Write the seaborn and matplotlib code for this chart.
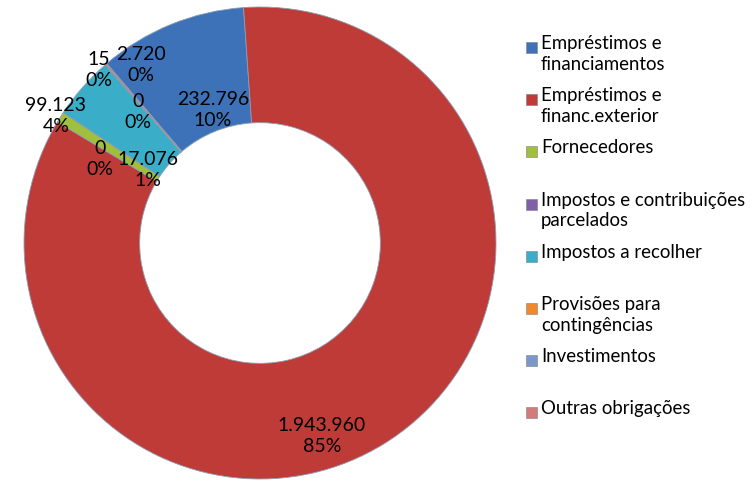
import matplotlib
matplotlib.use("Agg")
import matplotlib.pyplot as plt
import seaborn as sns
from matplotlib.patches import Rectangle

# data
categories = [
    "Empréstimos e financiamentos",
    "Empréstimos e financ.exterior",
    "Fornecedores",
    "Impostos e contribuições parcelados",
    "Impostos a recolher",
    "Provisões para contingências",
    "Investimentos",
    "Outras obrigações",
]
values = [232796, 1943960, 17076, 0, 99123, 0, 15, 2720]
legend_text = [
    "Empréstimos e\nfinanciamentos",
    "Empréstimos e\nfinanc.exterior",
    "Fornecedores",
    "Impostos e contribuições\nparcelados",
    "Impostos a recolher",
    "Provisões para\ncontingências",
    "Investimentos",
    "Outras obrigações",
]

# layout / style
colors = ["#3D72B8", "#BE3B38", "#A0BF3C", "#7F5FA8",
          "#3AADC8", "#F0892E", "#7B98C9", "#D17B7A"]
# data label centres (pixels), Excel placed the small ones by hand
label_px = [(213, 110), (322, 436), (148, 170), (100, 159),
            (56, 116), (138, 112), (99, 70), (141, 65)]

W, H = 752, 490
CX, CY, R = 260, 243, 236
FONT = ["Lato", "DejaVu Sans"]
FS = 14
FS_LEG = 13.4

sns.set_theme(style="white")
plt.rcParams["font.family"] = FONT

fig = plt.figure(figsize=(W / 100, H / 100), dpi=100)
fig.patch.set_facecolor("white")

half = 240
ax = fig.add_axes([(CX - half) / W, (H - CY - half) / H, 2 * half / W, 2 * half / H])
ax.axis("off")

total = sum(values)
blue_deg = 360 * values[0] / total
start = 90 + 4 + blue_deg  # blue ends just left of 12 o'clock

wedges, _ = ax.pie(
    values, colors=colors, radius=1.0, startangle=start, counterclock=False,
    wedgeprops=dict(width=0.49, edgecolor="#8d9db3", linewidth=0.6),
)
# pie() resets the limits, so set them afterwards
ax.set_xlim(-half / R, half / R)
ax.set_ylim(-half / R, half / R)
ax.set_aspect("equal")

for v, (px, py) in zip(values, label_px):
    pct = round(100 * v / total)
    txt = f"{v:,}".replace(",", ".") + f"\n{pct}%"
    ax.text((px - CX) / R, (CY - py) / R, txt, ha="center", va="center",
            fontsize=FS, color="black", linespacing=1.3)

# legend drawn by hand so markers line up with the first text line
for i, (lab, col) in enumerate(zip(legend_text, colors)):
    y = 47 + 52.2 * i
    fig.patches.append(Rectangle((526 / W, 1 - (y + 6) / H), 11 / W, 11 / H,
                                 transform=fig.transFigure, facecolor=col,
                                 edgecolor="#7f7f7f", linewidth=0.4))
    fig.text(541 / W, 1 - (y - 12) / H, lab, ha="left", va="top",
             fontsize=FS_LEG, color="black", linespacing=1.25)

fig.savefig("out.png", dpi=100, facecolor="white")
